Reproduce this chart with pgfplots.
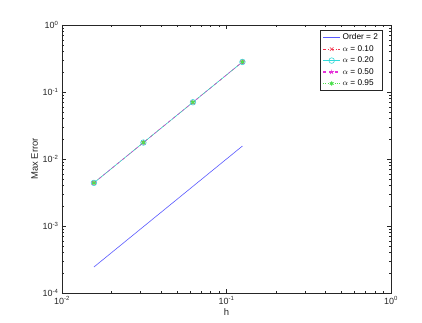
\documentclass[border=0pt]{standalone}
\usepackage{pgfplots}
\pgfplotsset{compat=1.18}
\usepackage{fontspec}
\setmainfont{Liberation Sans}
\definecolor{axgray}{rgb}{0.15,0.15,0.15}
\definecolor{mblue}{rgb}{0.35,0.35,1}
\definecolor{mgreen}{rgb}{0.3,0.88,0.3}
\definecolor{mcyan}{rgb}{0.2,0.85,0.85}
\definecolor{mmag}{rgb}{0.9,0.2,0.85}
\definecolor{mred}{rgb}{0.95,0.2,0.3}
\begin{document}
\begin{tikzpicture}
\path[use as bounding box] (-62bp,-30bp) rectangle (360bp,293bp);
\begin{axis}[
  at={(0,0)}, anchor=south west,
  scale only axis, width=329bp, height=268bp,
  xmode=log, ymode=log,
  xmin=0.01, xmax=1, ymin=1e-4, ymax=1,
  axis line style={axgray, line width=0.5pt},
  tick style={axgray, line width=0.4pt},
  tick align=inside,
  major tick length=4bp, minor tick length=2bp,
  xtick={0.01,0.1,1},
  xticklabels={10\textsuperscript{-2},10\textsuperscript{-1},10\textsuperscript{0}},
  ytick={1e-4,1e-3,1e-2,1e-1,1},
  yticklabels={10\textsuperscript{-4},10\textsuperscript{-3},10\textsuperscript{-2},10\textsuperscript{-1},10\textsuperscript{0}},
  ticklabel style={font=\fontsize{9}{10}\selectfont, text=axgray},
  xlabel={h}, ylabel={Max Error},
  label style={font=\fontsize{9.5}{11}\selectfont, text=axgray},
  xlabel style={yshift=3bp},
  ylabel style={yshift=-2bp},
  legend style={at={(0.973,0.981)}, anchor=north east, draw=axgray, fill=white, line width=0.5pt,
    font=\fontsize{8.3}{9}\selectfont, inner xsep=2pt, inner ysep=1.5pt, row sep=0.2pt,
    legend cell align=left},
  legend image code/.code={
    \draw[mark repeat=2,mark phase=2,#1,line width=1.1pt] plot coordinates {(0cm,0cm) (0.3cm,0cm) (0.6cm,0cm)};},
]
\addplot[color=mblue, line width=0.6pt] coordinates {(0.015625,0.000244) (0.125,0.015625)};
\addlegendentry{Order = 2}
\addplot[color=mred, dashdotted, line width=0.5pt, mark=x, mark size=2.5pt, mark options={solid, line width=0.6pt}] coordinates {(0.015625,0.0044) (0.03125,0.0176) (0.0625,0.0703) (0.125,0.281)};
\addlegendentry{$\alpha$ = 0.10}
\addplot[color=mcyan, line width=0.6pt, mark=o, mark size=2.8pt, mark options={line width=0.6pt}] coordinates {(0.015625,0.0044) (0.03125,0.0176) (0.0625,0.0703) (0.125,0.281)};
\addlegendentry{$\alpha$ = 0.20}
\addplot[color=mmag, dashed, line width=0.5pt, mark=star, mark size=2.5pt, mark options={solid, line width=0.6pt}] coordinates {(0.015625,0.0044) (0.03125,0.0176) (0.0625,0.0703) (0.125,0.281)};
\addlegendentry{$\alpha$ = 0.50}
\addplot[color=mgreen, dotted, line width=0.3pt, mark=asterisk, mark size=2.2pt, mark options={solid, line width=0.9pt}] coordinates {(0.015625,0.0044) (0.03125,0.0176) (0.0625,0.0703) (0.125,0.281)};
\addlegendentry{$\alpha$ = 0.95}
\end{axis}
\end{tikzpicture}
\end{document}
